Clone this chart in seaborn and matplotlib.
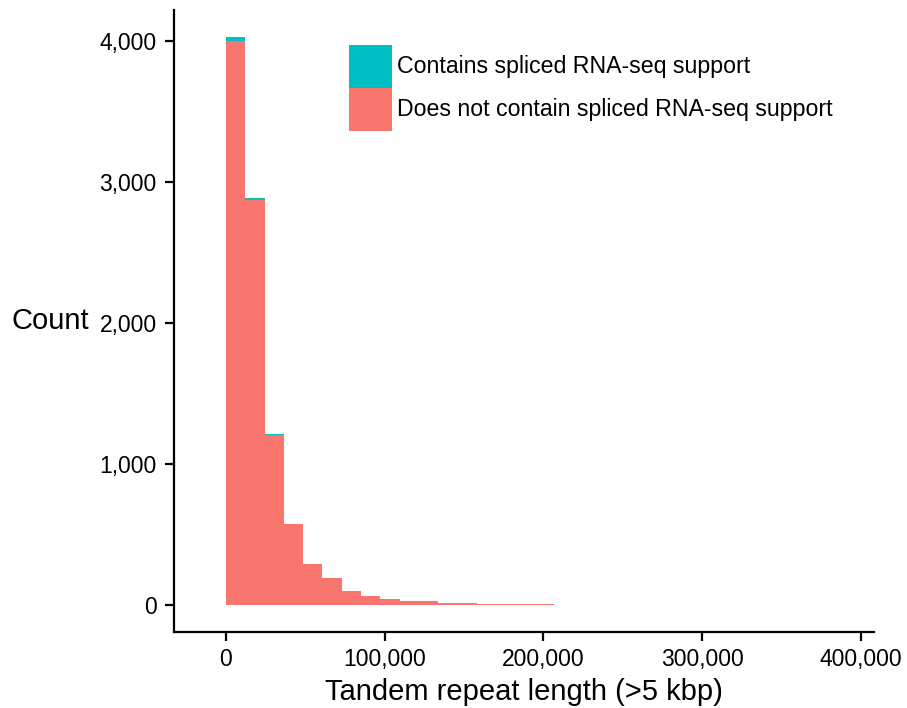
import numpy as np
import pandas as pd
import matplotlib
matplotlib.use("Agg")
import matplotlib.pyplot as plt
from matplotlib.ticker import FuncFormatter
import seaborn as sns

# histogram bins (tandem repeat length), counts
bin_width = 12150
n_bins = 31
not_contain = [3998, 2870, 1207, 572, 291, 189, 101, 62, 43, 28, 27, 16, 12, 11,
               6, 5, 6, 3, 3, 3, 0, 2, 2, 0, 0, 0, 0, 0, 0, 0, 2]
contains = [25, 12, 3, 0, 0, 0, 0, 0, 0, 0, 0, 0, 0, 0,
            0, 0, 0, 1, 0, 0, 0, 0, 0, 0, 0, 0, 0, 0, 0, 0, 0]
labels = ["Contains spliced RNA-seq support", "Does not contain spliced RNA-seq support"]
colors = ["#00BFC4", "#F8766D"]

edges = (np.arange(n_bins + 1) * bin_width).tolist()
centers = [e + bin_width / 2 for e in edges[:-1]]

df = pd.concat([
    pd.DataFrame({"length": centers, "count": contains, "group": labels[0]}),
    pd.DataFrame({"length": centers, "count": not_contain, "group": labels[1]}),
])

sns.set_style("white")
plt.rcParams["font.family"] = ["Liberation Sans", "DejaVu Sans"]
plt.rcParams["text.color"] = "black"
plt.rcParams["axes.labelcolor"] = "black"

fig = plt.figure(figsize=(9.07, 7.08), dpi=100)
ax = fig.add_axes([0.1918, 0.1073, 0.7718, 0.8786])

sns.histplot(data=df, x="length", weights="count", hue="group", hue_order=labels,
             palette=colors, bins=edges, multiple="stack", alpha=1,
             linewidth=0, edgecolor="none", ax=ax)

ax.set_xlim(-32770, 408320)
ax.set_ylim(-191, 4217)
ax.set_xticks([0, 100000, 200000, 300000, 400000])
ax.set_yticks([0, 1000, 2000, 3000, 4000])
fmt = FuncFormatter(lambda v, p: f"{int(v):,}")
ax.xaxis.set_major_formatter(fmt)
ax.yaxis.set_major_formatter(fmt)

for s in ["top", "right"]:
    ax.spines[s].set_visible(False)
for s in ["left", "bottom"]:
    ax.spines[s].set_linewidth(1.6)
    ax.spines[s].set_color("black")
ax.tick_params(axis="both", which="major", direction="out", length=6.5, width=1.6,
               color="black", labelsize=16.5, labelcolor="black", pad=5,
               bottom=True, left=True)
ax.tick_params(axis="y", pad=6)

ax.set_xlabel("Tandem repeat length (>5 kbp)", fontsize=21, labelpad=5, color="black")
ax.set_ylabel("Count", fontsize=21, rotation=0, ha="right", va="center", color="black")
ax.yaxis.set_label_coords(-0.121, 0.5)

sns.move_legend(ax, loc="upper left", bbox_to_anchor=(0.25, 0.944), title=None,
                frameon=False, fontsize=16.7, handlelength=1.85, handleheight=2.475,
                labelspacing=0, handletextpad=0.2, borderpad=0, borderaxespad=0,
                labelcolor="black")

fig.savefig("out.png", dpi=100)
